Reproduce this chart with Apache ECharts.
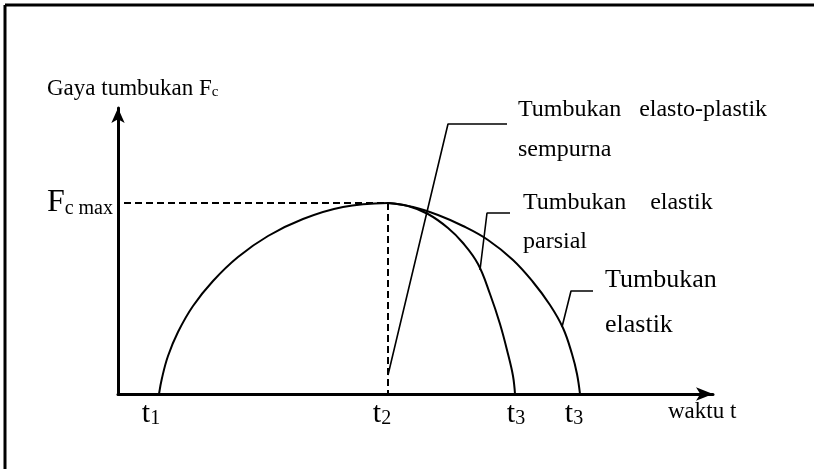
<!DOCTYPE html>
<html>
<head>
<meta charset="utf-8">
<script src="https://cdn.jsdelivr.net/npm/echarts@6.0.0/dist/echarts.min.js"></script>
<style>
	body { margin: 0; background: #fff; }
	#chart { width: 814px; height: 469px; }
</style>
</head>
<body>
<div id="chart"></div>
<script>
// time labels on the x axis and their subscripts
var tickLabelPos = [33, 264, 398, 456];
var tickSubs = ['1', '2', '3', '3'];
var fcMax = 191;

// curves: [t, Fc]
var risingCurve = [[41, 0], [44, 16], [50, 38], [60, 62], [75, 88], [95, 113], [120, 137], [150, 158], [185, 175], [225, 187], [270, 191]];
var partialCurve = [[270, 191], [290, 188], [310, 180], [330, 166], [345, 151], [360, 130], [372, 100], [382, 70], [390, 40], [395, 18], [397, 0]];
var elasticCurve = [[270, 191], [295, 187], [320, 179], [345, 168], [370, 154], [395, 134], [415, 112], [432, 89], [445, 66], [454, 40], [459, 20], [462, 0]];

// dashed guides to Fc max
var guideH = [[6, 191], [270, 191]];
var guideV = [[270, 191], [270, 0]];

// leader lines for the labels
var plasticLeader = [[270, 19], [330, 270], [389, 270]];
var partialLeader = [[362, 124], [369, 181], [392, 181]];
var elasticLeader = [[444, 67], [453, 103], [475, 103]];

var serif = '"Liberation Serif", "Times New Roman", serif';

var myChart = echarts.init(document.getElementById('chart'));

function lineSeries(data, width, dashed, smooth) {
	return {
		type: 'line',
		data: data,
		smooth: smooth ? 0.4 : false,
		showSymbol: false,
		symbol: 'none',
		silent: true,
		lineStyle: {
			color: '#000',
			width: width,
			type: dashed ? [7, 4] : 'solid'
		}
	};
}

function label(text, x, y, size) {
	return {
		type: 'text',
		style: {
			x: x,
			y: y,
			text: text,
			fill: '#000',
			font: size + 'px ' + serif,
			align: 'left',
			verticalAlign: 'middle'
		}
	};
}

var option = {
	animation: false,
	backgroundColor: '#fff',
	grid: {
		left: 118,
		right: 101,
		top: 108,
		bottom: 75
	},
	xAxis: {
		type: 'value',
		min: 0,
		max: 595,
		name: 'waktu t',
		nameLocation: 'end',
		nameGap: 0,
		nameTextStyle: {
			color: '#000',
			fontFamily: serif,
			fontSize: 23,
			align: 'left',
			verticalAlign: 'top',
			padding: [6, 0, 0, -45]
		},
		axisLine: {
			onZero: false,
			symbol: ['none', 'arrow'],
			symbolSize: [10, 17],
			lineStyle: { color: '#000', width: 3 }
		},
		axisTick: { show: false },
		splitLine: { show: false },
		axisLabel: {
			customValues: tickLabelPos,
			margin: 5,
			color: '#000',
			fontFamily: serif,
			formatter: function(v) {
				var i = tickLabelPos.indexOf(v);
				return '{t|t}{s|' + tickSubs[i] + '}';
			},
			rich: {
				t: { fontSize: 30, fontFamily: serif, color: '#000' },
				s: { fontSize: 20, fontFamily: serif, color: '#000', verticalAlign: 'bottom' }
			}
		}
	},
	yAxis: {
		type: 'value',
		min: 0,
		max: 286,
		name: '{a|Gaya tumbukan F}{s|c}',
		nameLocation: 'end',
		nameGap: 8,
		nameTextStyle: {
			align: 'left',
			verticalAlign: 'bottom',
			padding: [0, 0, 0, -71],
			rich: {
				a: { fontSize: 23, fontFamily: serif, color: '#000' },
				s: { fontSize: 15, fontFamily: serif, color: '#000', verticalAlign: 'bottom' }
			}
		},
		axisLine: {
			show: true,
			onZero: false,
			symbol: ['none', 'arrow'],
			symbolSize: [10, 15],
			lineStyle: { color: '#000', width: 3 }
		},
		axisTick: { show: false },
		splitLine: { show: false },
		axisLabel: {
			customValues: [fcMax],
			margin: 5,
			formatter: function() {
				return '{f|F}{s|c max}';
			},
			rich: {
				f: { fontSize: 32, fontFamily: serif, color: '#000' },
				s: { fontSize: 20, fontFamily: serif, color: '#000', verticalAlign: 'bottom' }
			}
		}
	},
	series: [
		lineSeries(risingCurve, 2, false, true),
		lineSeries(partialCurve, 2, false, true),
		lineSeries(elasticCurve, 2, false, true),
		lineSeries(guideH, 2, true, false),
		lineSeries(guideV, 2, true, false),
		lineSeries(plasticLeader, 1.6, false, false),
		lineSeries(partialLeader, 1.6, false, false),
		lineSeries(elasticLeader, 1.6, false, false)
	],
	graphic: [
		/*---frame---*/
		{ type: 'line', shape: { x1: 5, y1: 5, x2: 814, y2: 5 }, style: { stroke: '#000', lineWidth: 3 } },
		{ type: 'line', shape: { x1: 5, y1: 5, x2: 5, y2: 469 }, style: { stroke: '#000', lineWidth: 3 } },
		/*---curve labels---*/
		label('Tumbukan   elasto-plastik', 518, 110, 24),
		label('sempurna', 518, 150, 24),
		label('Tumbukan    elastik', 523, 203, 24),
		label('parsial', 523, 242, 24),
		label('Tumbukan', 605, 280, 26),
		label('elastik', 605, 325, 26)
	]
};
myChart.setOption(option);
</script>
</body>
</html>
